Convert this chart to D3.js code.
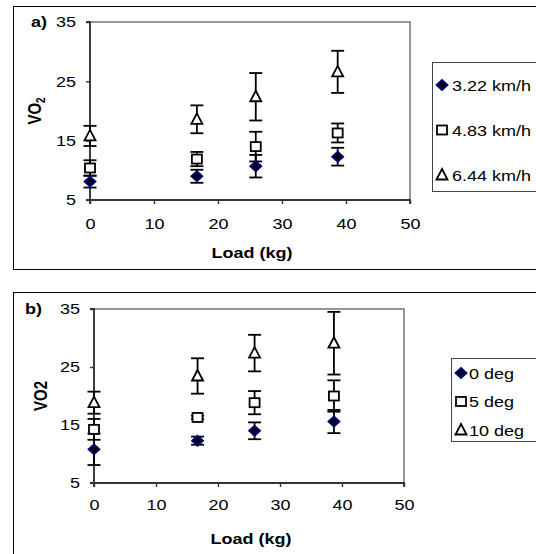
<!DOCTYPE html>
<html>
<head>
<meta charset="utf-8">
<script src="https://cdn.jsdelivr.net/npm/d3@7"></script>
<style>
  body { margin: 0; background: #fff; }
  svg { display: block; font-family: "Liberation Sans", Arial, sans-serif; }
</style>
</head>
<body>
<script>
// data
var loads = [0, 16.7, 25.9, 38.7];
var xTicks = [0, 10, 20, 30, 40, 50];
var yTicks = [5, 15, 25, 35];

var speedLabels = ["3.22 km/h", "4.83 km/h", "6.44 km/h"];
var speedMeans = [[8.1, 9.0, 10.7, 12.3], [10.4, 11.9, 14.0, 16.3], [15.8, 18.6, 22.4, 26.6]];
var speedErr = [[1.0, 1.1, 1.9, 1.5], [1.3, 1.2, 2.5, 1.6], [1.7, 2.35, 4.0, 3.55]];

var slopeLabels = ["0 deg", "5 deg", "10 deg"];
var slopeMeans = [[10.8, 12.3, 14.0, 15.6], [14.25, 16.3, 18.85, 20.0], [18.85, 23.45, 27.4, 29.1]];
var slopeErr = [[2.7, 0.7, 1.45, 2.0], [1.8, 0.3, 2.0, 2.7], [1.9, 3.05, 3.15, 5.4]];

var shapes = ["diamond", "square", "triangle"];

var width = 536, height = 554;
var stretch = 1.2;   // the original picture is a bit wider than tall
var fontSize = 15;

var svg = d3.select("body").append("svg")
  .attr("width", width)
  .attr("height", height);

var addText = function(g, x, y, str) {
  return g.append("text")
    .attr("transform", "translate(" + x + "," + y + ") scale(" + stretch + ",1)")
    .attr("font-size", fontSize)
    .text(str);
};

var drawMarker = function(g, shape, x, y) {
  if (shape == "diamond") {
    g.append("path")
      .attr("d", "M" + x + "," + (y - 5) + "L" + (x + 5.5) + "," + y + "L" + x + "," + (y + 5) + "L" + (x - 5.5) + "," + y + "Z")
      .attr("fill", "#000")
      .attr("stroke", "#000080")
      .attr("stroke-width", 1.8);
  } else if (shape == "square") {
    g.append("rect")
      .attr("x", x - 5).attr("y", y - 4.5)
      .attr("width", 10).attr("height", 9)
      .attr("fill", "#fff")
      .attr("stroke", "#000")
      .attr("stroke-width", 1.8);
  } else {
    g.append("path")
      .attr("d", "M" + x + "," + (y - 6) + "L" + (x + 5.5) + "," + (y + 4.5) + "L" + (x - 5.5) + "," + (y + 4.5) + "Z")
      .attr("fill", "#fff")
      .attr("stroke", "#000")
      .attr("stroke-width", 1.8);
  }
};

var drawPanel = function(cfg) {
  var g = svg.append("g");

  // outer chart border (runs off the right of the picture)
  g.append("rect")
    .attr("x", 13.5).attr("y", cfg.boxTop + 0.5)
    .attr("width", 540).attr("height", cfg.boxHeight)
    .attr("fill", "none").attr("stroke", "#000").attr("stroke-width", 1);

  var xScale = d3.scaleLinear().domain([0, 50]).range([cfg.left, cfg.right]);
  var yScale = d3.scaleLinear().domain([5, 35]).range([cfg.bottom, cfg.top]);

  // plot area frame
  g.append("rect")
    .attr("x", cfg.left).attr("y", cfg.top)
    .attr("width", cfg.right - cfg.left).attr("height", cfg.bottom - cfg.top)
    .attr("fill", "none").attr("stroke", "#8c8c8c").attr("stroke-width", 1.8);

  var xAxis = g.append("g")
    .attr("transform", "translate(0," + cfg.bottom + ")")
    .call(d3.axisBottom(xScale).tickValues(xTicks).tickSize(4));
  var yAxis = g.append("g")
    .attr("transform", "translate(" + cfg.left + ",0)")
    .call(d3.axisLeft(yScale).tickValues(yTicks).tickSize(4));
  [xAxis, yAxis].forEach(function(a) {
    a.select(".domain").attr("stroke", "#333").attr("stroke-width", 1.8);
    a.selectAll(".tick line").attr("stroke", "#333").attr("stroke-width", 1.4);
    a.selectAll(".tick text").attr("font-size", fontSize).attr("fill", "#000")
      .attr("font-family", "Liberation Sans, Arial, sans-serif")
      .attr("transform", "scale(" + stretch + ",1)");
  });
  xAxis.selectAll(".tick text").attr("y", cfg.xLabelGap).attr("dy", null);
  yAxis.selectAll(".tick text").attr("x", -14 / stretch);
  xAxis.select(".domain").attr("d", "M" + cfg.left + ",4V0H" + cfg.right + "V4");
  yAxis.select(".domain").attr("d", "M-4," + cfg.bottom + "H0V" + cfg.top + "H-4");

  // panel letter
  addText(g, cfg.letterX, cfg.top + 5, cfg.letter).attr("font-weight", "bold");

  // axis titles
  addText(g, (cfg.left + cfg.right) / 2 + 2, cfg.bottom + cfg.titleGap, "Load (kg)")
    .attr("text-anchor", "middle")
    .attr("font-weight", "bold");

  var yt = g.append("text")
    .attr("transform", "translate(" + cfg.yTitleX + "," + ((cfg.top + cfg.bottom) / 2) + ") scale(" + stretch + ",1) rotate(-90)")
    .attr("text-anchor", "middle")
    .attr("font-size", fontSize).attr("font-weight", "bold");
  if (cfg.subscript) {
    yt.append("tspan").text("VO");
    yt.append("tspan").attr("font-size", 10).attr("dy", 3).text("2");
  } else {
    yt.text("VO2");
  }

  // error bars then markers
  cfg.means.forEach(function(series, s) {
    series.forEach(function(v, i) {
      var x = xScale(loads[i]);
      var y1 = yScale(v + cfg.errs[s][i]);
      var y0 = yScale(v - cfg.errs[s][i]);
      g.append("line").attr("x1", x).attr("x2", x).attr("y1", y1).attr("y2", y0)
        .attr("stroke", "#000").attr("stroke-width", 1.8);
      [y0, y1].forEach(function(yy) {
        g.append("line").attr("x1", x - 6.5).attr("x2", x + 6.5).attr("y1", yy).attr("y2", yy)
          .attr("stroke", "#000").attr("stroke-width", 1.8);
      });
    });
  });
  cfg.means.forEach(function(series, s) {
    series.forEach(function(v, i) {
      drawMarker(g, shapes[s], xScale(loads[i]), yScale(v));
    });
  });

  // legend
  var lg = cfg.legend;
  g.append("rect")
    .attr("x", lg.x + 0.5).attr("y", lg.y + 0.5)
    .attr("width", 120).attr("height", lg.h)
    .attr("fill", "#fff").attr("stroke", "#444").attr("stroke-width", 1);
  cfg.labels.forEach(function(lab, s) {
    var cy = lg.firstRow + s * lg.step;
    drawMarker(g, shapes[s], lg.markerX, cy);
    addText(g, lg.markerX + lg.gap, cy + 5.5, lab);
  });
};

drawPanel({
  letter: "a)", letterX: 31, subscript: true, yTitleX: 41,
  boxTop: 6, boxHeight: 263,
  left: 90, right: 410, top: 22, bottom: 200,
  xLabelGap: 29, titleGap: 58,
  means: speedMeans, errs: speedErr, labels: speedLabels,
  legend: { x: 432, y: 62, h: 129, markerX: 442, gap: 10, firstRow: 85, step: 45 }
});

drawPanel({
  letter: "b)", letterX: 25, subscript: false, yTitleX: 47,
  boxTop: 292, boxHeight: 300,
  left: 94, right: 404, top: 309, bottom: 483,
  xLabelGap: 27, titleGap: 61,
  means: slopeMeans, errs: slopeErr, labels: slopeLabels,
  legend: { x: 451, y: 358, h: 83, markerX: 461, gap: 8, firstRow: 373, step: 28.5 }
});
</script>
</body>
</html>
